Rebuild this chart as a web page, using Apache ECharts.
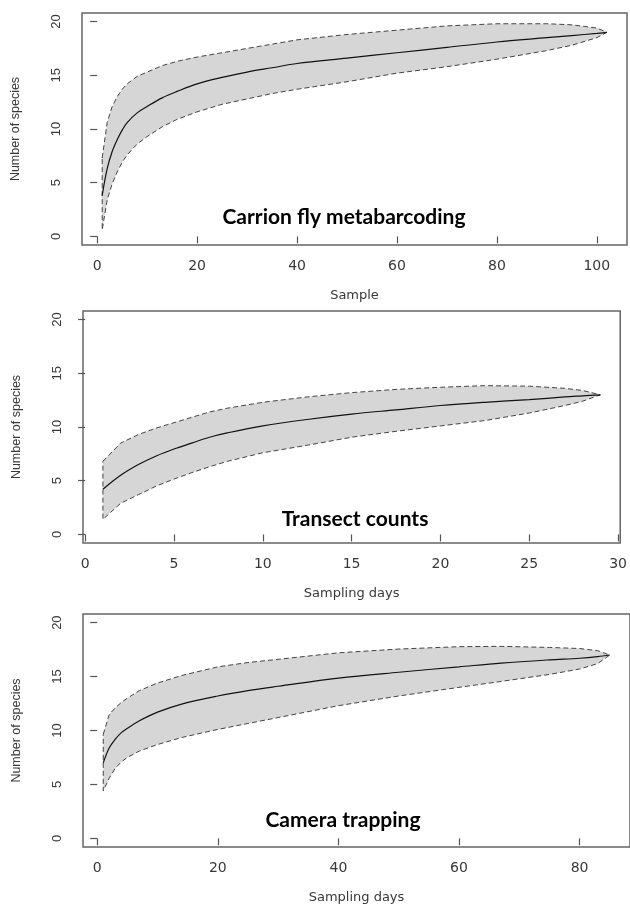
<!DOCTYPE html>
<html>
<head>
<meta charset="utf-8">
<script src="https://cdn.jsdelivr.net/npm/echarts@6/dist/echarts.min.js"></script>
<style>
html,body{margin:0;padding:0;background:#fff;}
#c{width:630px;height:907px;}
</style>
</head>
<body>
<div id="c"></div>
<script>
// Panel 1: Carrion fly metabarcoding
const xs1 = [1,2,3,4,5,6,8,10,13,16,20,25,30,35,40,50,60,70,80,90,95,100,102];
const mean1 = [3.8,6.3,7.9,9.0,9.9,10.6,11.5,12.1,12.9,13.5,14.2,14.8,15.3,15.7,16.1,16.6,17.1,17.6,18.1,18.5,18.7,18.9,19.0];
const upper1 = [7.3,10.6,12.1,13.0,13.7,14.2,14.9,15.3,15.9,16.3,16.7,17.1,17.5,17.9,18.3,18.8,19.2,19.6,19.8,19.8,19.7,19.4,19.0];
const lower1 = [0.6,3.4,4.9,6.0,6.9,7.6,8.6,9.3,10.2,10.9,11.6,12.3,12.8,13.3,13.7,14.4,15.2,15.8,16.5,17.3,17.8,18.5,19.0];
const xticks1 = [0,20,40,60,80,100];

// Panel 2: Transect counts
const xs2 = [1,2,3,4,5,6,7,8,10,12.5,15,17.5,20,22.5,25,27,28,29];
const mean2 = [4.2,5.5,6.5,7.3,7.95,8.5,9.05,9.45,10.1,10.7,11.2,11.6,12.0,12.3,12.55,12.8,12.9,13.0];
const upper2 = [6.8,8.5,9.3,9.9,10.4,10.9,11.4,11.75,12.3,12.8,13.2,13.5,13.7,13.85,13.8,13.6,13.4,13.0];
const lower2 = [1.4,2.9,3.7,4.5,5.15,5.75,6.3,6.8,7.6,8.3,9.05,9.6,10.1,10.6,11.3,12.0,12.4,13.0];
const xticks2 = [0,5,10,15,20,25,30];

// Panel 3: Camera trapping
const xs3 = [1,2,3,4,5,7,10,14,20,25,30,40,50,60,67,75,80,83,85];
const mean3 = [7.0,8.4,9.2,9.8,10.2,10.9,11.7,12.45,13.2,13.7,14.1,14.85,15.4,15.9,16.25,16.55,16.7,16.85,17.0];
const upper3 = [9.65,11.5,12.1,12.6,13.0,13.7,14.4,15.1,15.9,16.3,16.6,17.2,17.55,17.77,17.8,17.7,17.6,17.4,17.0];
const lower3 = [4.4,5.6,6.5,7.1,7.5,8.1,8.7,9.35,10.1,10.65,11.2,12.3,13.2,14.0,14.55,15.2,15.7,16.2,17.0];
const xticks3 = [0,20,40,60,80];

const yticks = [0,5,10,15,20];
const labels = ['Carrion fly metabarcoding','Transect counts','Camera trapping'];
const xnames = ['Sample','Sampling days','Sampling days'];

const panels = [
  {xs:xs1, mean:mean1, up:upper1, lo:lower1, ticks:xticks1, min:-3.04, max:106.04,
   grid:{left:82, top:13, width:545, height:232}, text:[344,217]},
  {xs:xs2, mean:mean2, up:upper2, lo:lower2, ticks:xticks2, min:-0.12, max:30.12,
   grid:{left:83, top:311, width:546, height:232}, text:[355,519]},
  {xs:xs3, mean:mean3, up:upper3, lo:lower3, ticks:xticks3, min:-2.36, max:88.36,
   grid:{left:83, top:614, width:548, height:233}, text:[343,820]}
];

const txtColor = '#383838';
const grids = [], xAxes = [], yAxes = [], series = [], graphics = [];
panels.forEach((p, i) => {
  grids.push(Object.assign({show:true, borderColor:'#666', borderWidth:1.5, backgroundColor:'transparent'}, p.grid));
  xAxes.push({
    type:'value', gridIndex:i, min:p.min, max:p.max,
    name:xnames[i], nameLocation:'middle', nameGap:44,
    nameTextStyle:{fontFamily:'DejaVu Sans', fontSize:13, color:txtColor},
    axisLine:{show:false}, splitLine:{show:false},
    axisTick:{show:true, length:7, customValues:p.ticks, lineStyle:{color:'#555', width:1.2}},
    axisLabel:{customValues:p.ticks, margin:14, fontFamily:'DejaVu Sans', fontSize:14, color:txtColor}
  });
  yAxes.push({
    type:'value', gridIndex:i, min:-0.8, max:20.8,
    name:'Number of species', nameLocation:'middle', nameGap:60, nameRotate:90,
    nameTextStyle:{fontFamily:'Liberation Sans', fontSize:12.5, color:txtColor},
    axisLine:{show:false}, splitLine:{show:false},
    axisTick:{show:true, length:7, customValues:yticks, lineStyle:{color:'#555', width:1.2}},
    axisLabel:{customValues:yticks, rotate:90, margin:19, fontFamily:'Liberation Sans', fontSize:13, color:txtColor}
  });
  series.push({
    type:'custom', xAxisIndex:i, yAxisIndex:i, silent:true, z:2,
    data:[[p.xs[0], p.up[0]]],
    renderItem:(params, api) => {
      const pts = [];
      for (let k = 0; k < p.xs.length; k++) pts.push(api.coord([p.xs[k], p.up[k]]));
      for (let k = p.xs.length - 1; k >= 0; k--) pts.push(api.coord([p.xs[k], p.lo[k]]));
      return {type:'polygon', shape:{points:pts},
        style:{fill:'#d6d6d6', stroke:'#444', lineWidth:1, lineDash:[5,3]}};
    }
  });
  series.push({
    type:'line', xAxisIndex:i, yAxisIndex:i, z:3, silent:true,
    data:p.xs.map((x,k)=>[x, p.mean[k]]),
    showSymbol:false, smooth:0.35,
    lineStyle:{color:'#111', width:1.2}
  });
  graphics.push({
    type:'text', x:p.text[0], y:p.text[1], z:100,
    style:{text:labels[i], fontFamily:'Lato', fontWeight:'bold', fontSize:21,
      fill:'#000', textAlign:'center', textVerticalAlign:'middle'}
  });
});

const chart = echarts.init(document.getElementById('c'), null, {renderer:'canvas'});
chart.setOption({
  animation:false,
  backgroundColor:'#fff',
  grid:grids, xAxis:xAxes, yAxis:yAxes, series:series, graphic:graphics
});
</script>
</body>
</html>
